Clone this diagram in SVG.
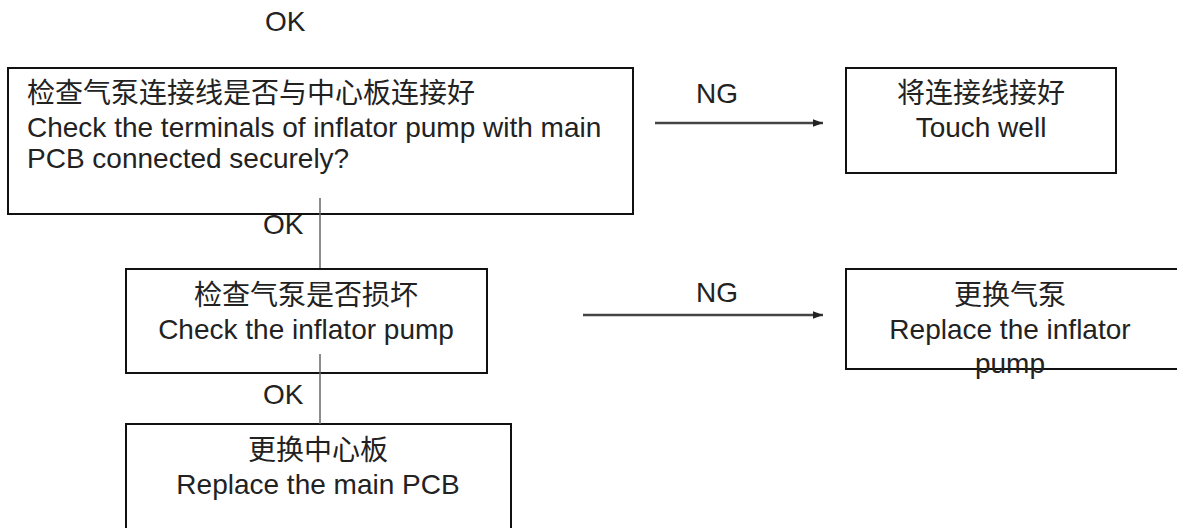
<svg xmlns="http://www.w3.org/2000/svg" width="1177" height="528" viewBox="0 0 1177 528">
  <defs>
    <style>
      .t { font-family: "Liberation Sans", "Noto Sans CJK SC", sans-serif; font-size: 28px; fill: #222; }
      .c { text-anchor: middle; }
      .box { fill: #fff; stroke: #111; stroke-width: 2; }
      .arrow { stroke: #444; stroke-width: 2.5; fill: none; marker-end: url(#ah); }
      .vline { stroke: #666; stroke-width: 1.5; fill: none; }
    </style>
    <marker id="ah" markerWidth="4" markerHeight="3" refX="4" refY="1.5" orient="auto" markerUnits="strokeWidth">
      <path d="M0,0 L4,1.5 L0,3 Z" fill="#222"/>
    </marker>
  </defs>
  <rect width="1177" height="528" fill="#fff"/>

  <text class="t" x="265" y="31">OK</text>

  <g id="node-check-terminals">
    <rect class="box" x="8" y="68" width="625" height="146"/>
    <text class="t" x="27" y="103">检查气泵连接线是否与中心板连接好</text>
    <text class="t" x="27" y="137">Check the terminals of inflator pump with main</text>
    <text class="t" x="27" y="168">PCB connected securely?</text>
  </g>

  <g id="node-touch-well">
    <rect class="box" x="846" y="68" width="270" height="105"/>
    <text class="t c" x="981" y="103">将连接线接好</text>
    <text class="t c" x="981" y="137">Touch well</text>
  </g>

  <g id="node-check-pump">
    <rect class="box" x="126" y="269" width="361" height="104"/>
    <text class="t c" x="306" y="305">检查气泵是否损坏</text>
    <text class="t c" x="306" y="339">Check the inflator pump</text>
  </g>

  <g id="node-replace-pump">
    <rect class="box" x="846" y="269" width="360" height="100"/>
    <text class="t c" x="1010" y="305">更换气泵</text>
    <text class="t c" x="1010" y="339">Replace the inflator</text>
    <text class="t c" x="1010" y="373">pump</text>
  </g>

  <g id="node-replace-pcb">
    <rect class="box" x="126" y="424" width="385" height="130"/>
    <text class="t c" x="318" y="460">更换中心板</text>
    <text class="t c" x="318" y="494">Replace the main PCB</text>
  </g>

  <g id="connectors">
    <line class="arrow" x1="655" y1="123" x2="823" y2="123"/>
    <text class="t c" x="717" y="103">NG</text>
    <line class="vline" x1="320" y1="198" x2="320" y2="268"/>
    <text class="t" x="263" y="234">OK</text>
    <line class="arrow" x1="583" y1="315" x2="823" y2="315"/>
    <text class="t c" x="717" y="302">NG</text>
    <line class="vline" x1="320" y1="354" x2="320" y2="424"/>
    <text class="t" x="263" y="404">OK</text>
  </g>
</svg>
